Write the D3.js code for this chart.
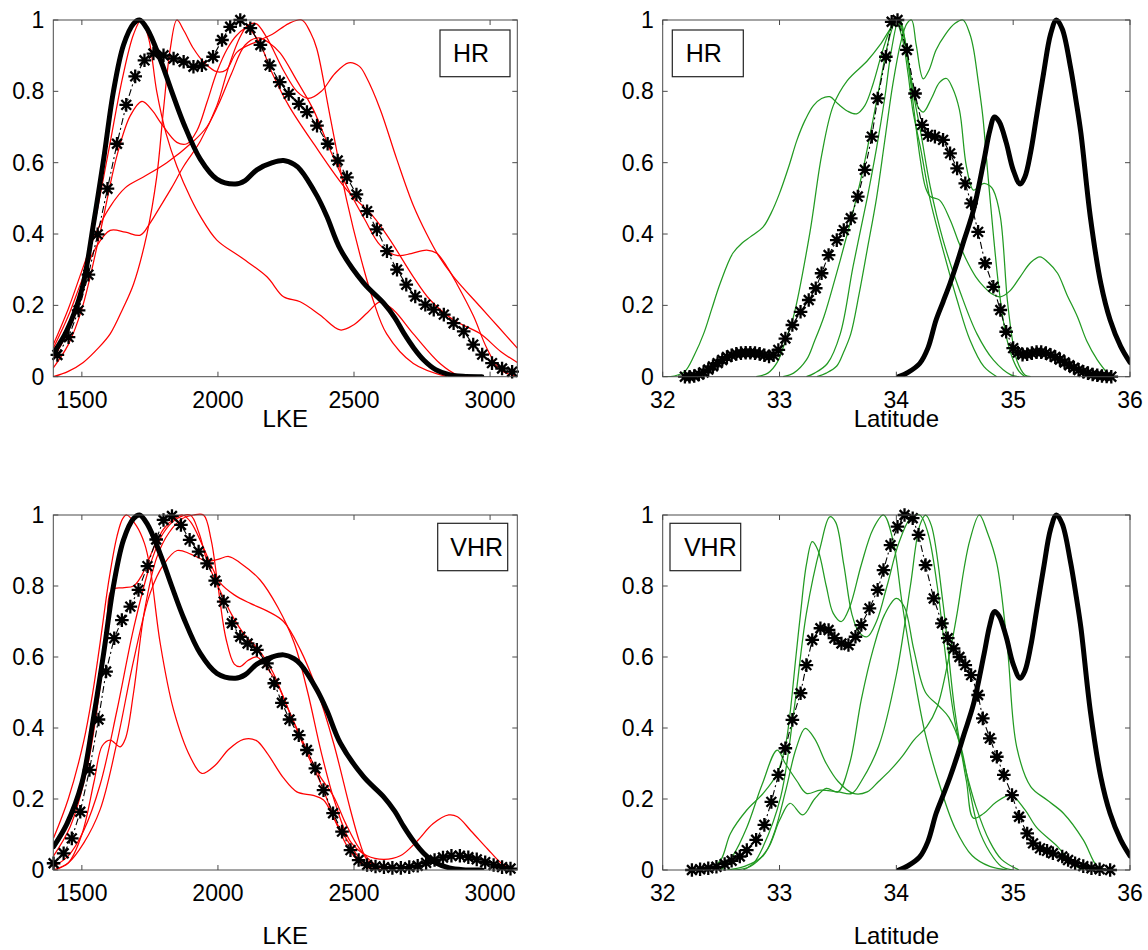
<!DOCTYPE html>
<html><head><meta charset="utf-8">
<script src="https://cdn.jsdelivr.net/npm/d3@7"></script>
<style>
body{margin:0;background:#fff}
svg{display:block}
text{font-family:"Liberation Sans",Arial,Helvetica,sans-serif;fill:#000}
</style>
</head><body>
<svg id="chart" width="1148" height="950"></svg>
<script>
// ---------------- DATA ----------------
const yTicks = [0, 0.2, 0.4, 0.6, 0.8, 1];
const lkeTicks = [1500, 2000, 2500, 3000];
const latTicks = [32, 33, 34, 35, 36];

// observed (thick black) distributions
const obsLKE = [[1396,0.066],[1445,0.13],[1500,0.245],[1543,0.43],[1580,0.61],[1616,0.80],[1653,0.93],[1690,0.99],[1712,1.0],[1740,0.975],[1788,0.89],[1830,0.80],[1874,0.71],[1935,0.61],[1996,0.554],[2064,0.54],[2100,0.55],[2143,0.58],[2200,0.60],[2241,0.606],[2280,0.595],[2303,0.58],[2364,0.507],[2400,0.45],[2450,0.357],[2535,0.263],[2609,0.206],[2650,0.165],[2683,0.122],[2720,0.08],[2756,0.047],[2800,0.02],[2850,0.006],[2900,0.001],[2970,0]];
const obsLat = [[34.02,0],[34.1,0.012],[34.2,0.037],[34.27,0.08],[34.34,0.159],[34.4,0.21],[34.46,0.262],[34.52,0.32],[34.58,0.383],[34.66,0.467],[34.75,0.607],[34.8,0.69],[34.84,0.728],[34.88,0.715],[34.94,0.657],[35.0,0.58],[35.06,0.54],[35.1,0.56],[35.15,0.63],[35.2,0.73],[35.26,0.85],[35.32,0.96],[35.37,1.0],[35.42,0.975],[35.49,0.869],[35.54,0.77],[35.58,0.682],[35.66,0.449],[35.75,0.262],[35.83,0.159],[35.92,0.085],[36.0,0.04]];

// ensemble mean (asterisks)
const meanLKE_HR = [[1410,0.061],[1451,0.111],[1488,0.186],[1524,0.286],[1558,0.399],[1594,0.527],[1629,0.653],[1663,0.762],[1696,0.842],[1730,0.887],[1763,0.906],[1800,0.901],[1837,0.892],[1874,0.883],[1910,0.869],[1941,0.873],[1982,0.897],[2015,0.944],[2045,0.981],[2082,1.0],[2119,0.977],[2156,0.930],[2190,0.873],[2227,0.826],[2260,0.793],[2297,0.765],[2327,0.742],[2364,0.704],[2403,0.653],[2440,0.606],[2474,0.559],[2509,0.511],[2548,0.464],[2584,0.413],[2621,0.352],[2658,0.300],[2692,0.258],[2725,0.225],[2762,0.202],[2793,0.188],[2830,0.174],[2866,0.150],[2903,0.127],[2938,0.090],[2971,0.062],[3007,0.038],[3044,0.023],[3081,0.014]];
const meanLat_HR = [[32.19,0],[32.23,0],[32.27,0.002],[32.31,0.006],[32.35,0.012],[32.39,0.02],[32.43,0.029],[32.47,0.038],[32.51,0.047],[32.55,0.055],[32.59,0.06],[32.63,0.064],[32.67,0.066],[32.71,0.067],[32.75,0.067],[32.79,0.066],[32.83,0.064],[32.87,0.06],[32.91,0.057],[32.95,0.06],[32.99,0.075],[33.05,0.107],[33.11,0.145],[33.18,0.182],[33.25,0.215],[33.31,0.248],[33.36,0.29],[33.42,0.341],[33.49,0.383],[33.55,0.411],[33.61,0.444],[33.67,0.505],[33.73,0.58],[33.79,0.673],[33.84,0.78],[33.91,0.897],[33.96,0.995],[34.01,1.0],[34.09,0.916],[34.16,0.794],[34.22,0.706],[34.27,0.678],[34.33,0.673],[34.4,0.664],[34.46,0.626],[34.52,0.584],[34.59,0.542],[34.64,0.486],[34.7,0.406],[34.76,0.318],[34.83,0.252],[34.89,0.187],[34.94,0.126],[35.0,0.08],[35.04,0.068],[35.08,0.062],[35.12,0.063],[35.16,0.066],[35.2,0.069],[35.24,0.069],[35.28,0.066],[35.32,0.061],[35.36,0.055],[35.4,0.048],[35.44,0.04],[35.48,0.032],[35.52,0.025],[35.56,0.019],[35.6,0.014],[35.64,0.01],[35.68,0.006],[35.72,0.004],[35.76,0.002],[35.8,0.001],[35.84,0]];
const meanLKE_VHR = [[1396,0.019],[1433,0.047],[1463,0.089],[1494,0.164],[1528,0.282],[1561,0.424],[1589,0.559],[1619,0.653],[1647,0.704],[1678,0.742],[1708,0.789],[1741,0.856],[1773,0.931],[1800,0.986],[1831,0.997],[1864,0.972],[1896,0.93],[1929,0.897],[1960,0.864],[1990,0.815],[2021,0.756],[2051,0.695],[2082,0.657],[2109,0.638],[2143,0.62],[2180,0.582],[2207,0.526],[2235,0.471],[2263,0.424],[2297,0.38],[2327,0.338],[2358,0.286],[2388,0.225],[2423,0.16],[2456,0.108],[2487,0.056],[2517,0.028],[2548,0.014],[2579,0.01],[2610,0.008],[2641,0.006],[2672,0.006],[2703,0.008],[2734,0.012],[2765,0.02],[2796,0.028],[2827,0.035],[2858,0.04],[2889,0.04],[2920,0.036],[2951,0.03],[2982,0.022],[3013,0.014],[3044,0.008],[3075,0.004]];
const meanLat_VHR = [[32.25,0],[32.32,0.002],[32.39,0.005],[32.46,0.009],[32.53,0.017],[32.59,0.026],[32.66,0.038],[32.72,0.056],[32.8,0.085],[32.87,0.127],[32.93,0.192],[32.99,0.268],[33.05,0.343],[33.11,0.423],[33.18,0.498],[33.23,0.577],[33.28,0.648],[33.35,0.681],[33.42,0.676],[33.47,0.653],[33.53,0.638],[33.59,0.634],[33.65,0.657],[33.7,0.69],[33.77,0.737],[33.84,0.789],[33.89,0.845],[33.95,0.915],[34.01,0.967],[34.07,1.0],[34.14,0.991],[34.19,0.944],[34.25,0.859],[34.32,0.765],[34.39,0.695],[34.44,0.653],[34.49,0.624],[34.54,0.6],[34.59,0.577],[34.64,0.549],[34.7,0.493],[34.74,0.427],[34.8,0.371],[34.86,0.319],[34.92,0.268],[34.99,0.211],[35.05,0.15],[35.12,0.103],[35.17,0.075],[35.23,0.061],[35.29,0.054],[35.34,0.047],[35.42,0.038],[35.47,0.028],[35.53,0.019],[35.6,0.011],[35.67,0.005],[35.74,0.002],[35.83,0]];

// ensemble members, HR, LKE (red)
const lkeHR1 = [[1395,0.05],[1450,0.13],[1500,0.25],[1550,0.44],[1600,0.64],[1650,0.84],[1690,0.96],[1718,1.0],[1745,0.95],[1775,0.8],[1810,0.68],[1849,0.59],[1900,0.5],[1935,0.45],[1996,0.383],[2082,0.336],[2180,0.28],[2241,0.224],[2302,0.21],[2375,0.173],[2449,0.131],[2498,0.145],[2550,0.18],[2596,0.21],[2645,0.187],[2718,0.12],[2816,0.037],[2880,0.005],[2950,0]];
const lkeHR2 = [[1395,0.025],[1450,0.09],[1500,0.19],[1567,0.404],[1629,0.62],[1678,0.732],[1721,0.772],[1760,0.745],[1788,0.714],[1849,0.657],[1886,0.653],[1923,0.69],[1960,0.77],[1996,0.854],[2035,0.92],[2070,0.958],[2107,0.977],[2150,0.94],[2200,0.85],[2260,0.76],[2351,0.654],[2474,0.523],[2571,0.449],[2633,0.383],[2718,0.28],[2780,0.215],[2866,0.159],[2963,0.121],[3040,0.07],[3100,0.04]];
const lkeHR3 = [[1395,0],[1450,0.015],[1505,0.04],[1560,0.08],[1604,0.12],[1650,0.19],[1690,0.26],[1739,0.40],[1775,0.56],[1800,0.75],[1825,0.92],[1849,1.0],[1875,0.97],[1910,0.92],[1950,0.88],[1996,0.855],[2030,0.86],[2070,0.91],[2143,0.94],[2200,0.96],[2260,0.99],[2308,1.0],[2340,0.965],[2363,0.92],[2412,0.73],[2473,0.495],[2533,0.31],[2570,0.215],[2620,0.12],[2718,0.037],[2841,0]];
const lkeHR4 = [[1395,0.08],[1450,0.17],[1500,0.27],[1550,0.36],[1604,0.41],[1660,0.405],[1715,0.397],[1750,0.43],[1788,0.477],[1830,0.53],[1874,0.59],[1935,0.66],[1996,0.76],[2040,0.87],[2080,0.95],[2110,0.985],[2140,0.99],[2180,0.95],[2240,0.86],[2290,0.8],[2333,0.78],[2380,0.8],[2430,0.85],[2480,0.88],[2520,0.87],[2545,0.84],[2596,0.75],[2657,0.61],[2718,0.48],[2767,0.40],[2810,0.34],[2866,0.28],[2964,0.196],[3030,0.14],[3100,0.08]];
const lkeHR5 = [[1395,0.09],[1450,0.19],[1506,0.31],[1550,0.4],[1604,0.477],[1660,0.53],[1726,0.56],[1812,0.6],[1910,0.66],[1959,0.7],[2000,0.76],[2050,0.85],[2100,0.93],[2150,0.95],[2190,0.935],[2229,0.907],[2290,0.83],[2351,0.748],[2410,0.64],[2474,0.533],[2540,0.44],[2596,0.369],[2657,0.34],[2710,0.345],[2767,0.355],[2804,0.346],[2840,0.31],[2878,0.26],[2939,0.17],[2988,0.08],[3037,0.02],[3100,0]];

// ensemble members, HR, latitude (green)
const latHR1 = [[32.0,0],[32.1,0.002],[32.19,0.015],[32.27,0.06],[32.35,0.12],[32.42,0.19],[32.49,0.26],[32.6,0.346],[32.68,0.375],[32.75,0.392],[32.86,0.42],[32.93,0.46],[33.0,0.514],[33.08,0.59],[33.15,0.664],[33.22,0.72],[33.29,0.76],[33.36,0.78],[33.43,0.785],[33.5,0.765],[33.58,0.745],[33.66,0.737],[33.73,0.76],[33.8,0.82],[33.87,0.9],[33.93,0.96],[33.99,1.0],[34.05,0.95],[34.1,0.85],[34.14,0.748],[34.21,0.636],[34.29,0.495],[34.4,0.355],[34.52,0.215],[34.63,0.103],[34.75,0.028],[34.86,0]];
const latHR2 = [[32.8,0],[32.9,0.01],[32.98,0.04],[33.05,0.1],[33.12,0.169],[33.26,0.404],[33.36,0.62],[33.46,0.76],[33.58,0.83],[33.75,0.885],[33.86,0.93],[33.96,0.98],[34.03,1.0],[34.08,0.93],[34.13,0.822],[34.21,0.682],[34.29,0.533],[34.4,0.383],[34.55,0.234],[34.69,0.12],[34.83,0.047],[34.98,0.005],[35.05,0]];
const latHR3 = [[33.32,0],[33.4,0.01],[33.49,0.03],[33.55,0.07],[33.61,0.12],[33.68,0.23],[33.75,0.355],[33.83,0.5],[33.9,0.66],[33.97,0.82],[34.04,0.94],[34.09,0.99],[34.13,1.0],[34.17,0.93],[34.23,0.835],[34.28,0.86],[34.34,0.916],[34.42,0.96],[34.5,0.99],[34.57,1.0],[34.63,0.96],[34.66,0.92],[34.7,0.83],[34.74,0.73],[34.78,0.58],[34.83,0.40],[34.87,0.27],[34.91,0.168],[34.95,0.1],[35.0,0.047],[35.05,0.015],[35.1,0]];
const latHR4 = [[33.23,0],[33.3,0.01],[33.41,0.037],[33.52,0.12],[33.63,0.31],[33.75,0.5],[33.83,0.64],[33.9,0.78],[33.96,0.92],[34.02,1.0],[34.07,0.95],[34.13,0.83],[34.18,0.76],[34.23,0.742],[34.3,0.78],[34.37,0.825],[34.43,0.836],[34.48,0.81],[34.54,0.748],[34.6,0.589],[34.66,0.523],[34.71,0.535],[34.75,0.542],[34.8,0.535],[34.83,0.523],[34.89,0.449],[34.95,0.215],[35.0,0.09],[35.03,0.047],[35.1,0.005],[35.15,0]];
const latHR5 = [[33.03,0],[33.12,0.01],[33.23,0.047],[33.3,0.1],[33.38,0.168],[33.48,0.28],[33.58,0.40],[33.65,0.49],[33.72,0.589],[33.8,0.72],[33.87,0.84],[33.94,0.95],[34.0,1.0],[34.05,0.97],[34.1,0.88],[34.15,0.75],[34.2,0.62],[34.25,0.53],[34.29,0.505],[34.37,0.495],[34.46,0.44],[34.53,0.38],[34.6,0.327],[34.68,0.28],[34.75,0.252],[34.82,0.232],[34.89,0.224],[34.97,0.24],[35.06,0.28],[35.15,0.32],[35.23,0.336],[35.3,0.32],[35.38,0.29],[35.46,0.23],[35.55,0.168],[35.63,0.1],[35.72,0.047],[35.83,0]];

// ensemble members, VHR, LKE (red)
const lkeVHR1 = [[1396,0.09],[1450,0.2],[1506,0.36],[1540,0.5],[1567,0.64],[1600,0.82],[1629,0.94],[1650,0.99],[1665,1.0],[1700,0.97],[1730,0.92],[1751,0.85],[1788,0.638],[1837,0.451],[1898,0.319],[1941,0.272],[1990,0.295],[2040,0.34],[2094,0.368],[2140,0.365],[2180,0.33],[2240,0.26],[2290,0.22],[2350,0.21],[2388,0.197],[2430,0.14],[2474,0.085],[2535,0.02],[2580,0]];
const lkeVHR2 = [[1396,0.04],[1457,0.122],[1518,0.282],[1567,0.516],[1590,0.68],[1610,0.789],[1650,0.795],[1690,0.8],[1720,0.83],[1760,0.9],[1800,0.96],[1840,0.99],[1870,1.0],[1900,0.98],[1940,0.92],[1980,0.85],[2009,0.808],[2060,0.775],[2119,0.751],[2180,0.73],[2241,0.70],[2303,0.62],[2364,0.507],[2425,0.357],[2487,0.169],[2520,0.08],[2548,0.028],[2600,0]];
const lkeVHR3 = [[1396,0],[1450,0.02],[1500,0.1],[1545,0.25],[1575,0.35],[1604,0.366],[1641,0.347],[1660,0.37],[1690,0.5],[1730,0.73],[1775,0.88],[1820,0.95],[1870,0.99],[1910,1.0],[1947,1.0],[1975,0.93],[2000,0.8],[2030,0.65],[2060,0.58],[2082,0.573],[2110,0.59],[2143,0.6],[2180,0.57],[2217,0.526],[2260,0.45],[2315,0.357],[2370,0.27],[2425,0.207],[2470,0.13],[2520,0.06],[2570,0.02],[2620,0]];
const lkeVHR4 = [[1396,0],[1450,0.02],[1506,0.075],[1567,0.17],[1629,0.36],[1690,0.59],[1751,0.78],[1800,0.86],[1850,0.9],[1900,0.89],[1960,0.87],[2000,0.875],[2040,0.883],[2082,0.865],[2155,0.817],[2220,0.74],[2280,0.64],[2330,0.5],[2380,0.33],[2430,0.19],[2487,0.08],[2548,0.04],[2610,0.03],[2670,0.04],[2730,0.08],[2790,0.13],[2848,0.155],[2880,0.15],[2930,0.11],[2990,0.06],[3040,0.02],[3075,0.005]];
const lkeVHR5 = [[1396,0.01],[1450,0.04],[1506,0.11],[1567,0.24],[1629,0.45],[1690,0.68],[1751,0.86],[1800,0.95],[1850,0.99],[1898,1.0],[1930,0.95],[1960,0.87],[2000,0.8],[2050,0.72],[2100,0.66],[2150,0.62],[2200,0.56],[2260,0.45],[2320,0.34],[2380,0.24],[2430,0.14],[2480,0.06],[2530,0.015],[2580,0]];

// ensemble members, VHR, latitude (green)
const latVHR1 = [[32.4,0],[32.5,0.03],[32.58,0.103],[32.72,0.169],[32.86,0.216],[32.98,0.272],[33.05,0.35],[33.09,0.441],[33.14,0.6],[33.18,0.723],[33.23,0.86],[33.28,0.925],[33.33,0.9],[33.4,0.8],[33.46,0.723],[33.53,0.70],[33.6,0.74],[33.7,0.86],[33.8,0.96],[33.89,1.0],[33.97,0.93],[34.05,0.75],[34.15,0.55],[34.25,0.38],[34.37,0.24],[34.5,0.12],[34.65,0.04],[34.8,0.01],[34.95,0]];
const latVHR2 = [[32.69,0],[32.78,0.02],[32.86,0.066],[33.01,0.206],[33.12,0.441],[33.23,0.723],[33.35,0.911],[33.43,0.995],[33.48,0.98],[33.55,0.86],[33.62,0.72],[33.68,0.67],[33.75,0.657],[33.83,0.7],[33.92,0.8],[34.02,0.92],[34.12,0.99],[34.2,1.0],[34.27,0.95],[34.35,0.8],[34.43,0.58],[34.5,0.42],[34.58,0.3],[34.68,0.18],[34.8,0.08],[34.9,0.03],[35.05,0]];
const latVHR3 = [[32.55,0],[32.7,0.01],[32.86,0.04],[32.95,0.1],[33.05,0.22],[33.14,0.34],[33.22,0.399],[33.3,0.37],[33.4,0.3],[33.5,0.25],[33.63,0.216],[33.75,0.22],[33.85,0.25],[33.95,0.282],[34.05,0.32],[34.15,0.366],[34.26,0.404],[34.35,0.46],[34.45,0.6],[34.52,0.723],[34.58,0.85],[34.63,0.93],[34.71,1.0],[34.78,0.95],[34.86,0.864],[34.95,0.629],[35.03,0.347],[35.15,0.235],[35.29,0.197],[35.43,0.16],[35.6,0.085],[35.72,0.01],[35.8,0]];
const latVHR4 = [[32.6,0],[32.75,0.01],[32.9,0.06],[33.0,0.14],[33.09,0.188],[33.2,0.155],[33.3,0.2],[33.4,0.23],[33.5,0.22],[33.6,0.3],[33.7,0.48],[33.8,0.62],[33.9,0.72],[34.0,0.765],[34.07,0.74],[34.15,0.62],[34.25,0.5],[34.37,0.46],[34.45,0.43],[34.55,0.35],[34.63,0.22],[34.7,0.12],[34.8,0.05],[34.9,0.01],[35.0,0]];
const latVHR5 = [[32.5,0],[32.6,0.04],[32.72,0.12],[32.85,0.24],[32.98,0.338],[33.05,0.3],[33.15,0.25],[33.23,0.216],[33.35,0.225],[33.5,0.22],[33.62,0.216],[33.7,0.25],[33.85,0.35],[34.0,0.55],[34.12,0.8],[34.2,0.97],[34.25,1.0],[34.3,0.97],[34.4,0.75],[34.5,0.45],[34.6,0.25],[34.66,0.146],[34.75,0.16],[34.85,0.19],[34.98,0.211],[35.1,0.17],[35.2,0.12],[35.38,0.066],[35.5,0.02],[35.6,0]];

const legendNames = ["HR", "HR", "VHR", "VHR"];
const axisLabels = ["LKE", "Latitude", "LKE", "Latitude"];

// ---------------- LAYOUT ----------------
const panels = [
  {x0:53.3, x1:517.3, y0:20, y1:376.7, dom:[1395,3100], ticks:lkeTicks, label:axisLabels[0], labelY:427, legend:legendNames[0], box:[440,30,70,46.7], tdx:-4, obs:obsLKE, mean:meanLKE_HR, members:[lkeHR1,lkeHR2,lkeHR3,lkeHR4,lkeHR5], color:"#ff0000"},
  {x0:662.7, x1:1130, y0:20, y1:376.7, dom:[32,36], ticks:latTicks, label:axisLabels[1], labelY:427, legend:legendNames[1], box:[672.3,30,71,46.7], tdx:-4, obs:obsLat, mean:meanLat_HR, members:[latHR1,latHR2,latHR3,latHR4,latHR5], color:"#229a22"},
  {x0:53.3, x1:517.3, y0:515, y1:870, dom:[1395,3100], ticks:lkeTicks, label:axisLabels[2], labelY:944, legend:legendNames[2], box:[437.7,523.3,70,47.4], tdx:4, obs:obsLKE, mean:meanLKE_VHR, members:[lkeVHR1,lkeVHR2,lkeVHR3,lkeVHR4,lkeVHR5], color:"#ff0000"},
  {x0:662.7, x1:1130, y0:515, y1:870, dom:[32,36], ticks:latTicks, label:axisLabels[3], labelY:944, legend:legendNames[3], box:[670,523.3,70.7,47.4], tdx:5, obs:obsLat, mean:meanLat_VHR, members:[latVHR1,latVHR2,latVHR3,latVHR4,latVHR5], color:"#229a22"}
];

const svg = d3.select("#chart");
const defs = svg.append("defs");
const tickLen = 5;
const fmtY = d => d === 0 ? "0" : d === 1 ? "1" : d.toFixed(1);
const starR = 6.8, starK = starR * 0.72;
const starPath = `M${-starR},0H${starR}M0,${-starR}V${starR}M${-starK},${-starK}L${starK},${starK}M${-starK},${starK}L${starK},${-starK}`;

panels.forEach((p, i) => {
  const x = d3.scaleLinear().domain(p.dom).range([p.x0, p.x1]);
  const y = d3.scaleLinear().domain([0, 1]).range([p.y1, p.y0]);
  const g = svg.append("g");
  const clipId = "clip" + i;
  defs.append("clipPath").attr("id", clipId).append("rect")
    .attr("x", p.x0).attr("y", p.y0 - 8).attr("width", p.x1 - p.x0).attr("height", p.y1 - p.y0 + 8);

  const line = d3.line().x(d => x(d[0])).y(d => y(d[1])).curve(d3.curveCatmullRom.alpha(0.5));
  const lin = d3.line().x(d => x(d[0])).y(d => y(d[1]));
  const plot = g.append("g").attr("clip-path", `url(#${clipId})`);

  p.members.forEach(m => {
    plot.append("path").datum(m).attr("d", line)
      .attr("fill", "none").attr("stroke", p.color).attr("stroke-width", 1.25);
  });
  plot.append("path").datum(p.obs).attr("d", line)
    .attr("fill", "none").attr("stroke", "#000").attr("stroke-width", 5)
    .attr("stroke-linejoin", "round").attr("stroke-linecap", "round");
  g.append("path").datum(p.mean).attr("d", lin)
    .attr("fill", "none").attr("stroke", "#000").attr("stroke-width", 1.1)
    .attr("stroke-dasharray", "7,3,2,3");
  g.append("g").selectAll("path").data(p.mean).join("path")
    .attr("transform", d => `translate(${x(d[0])},${y(d[1])})`)
    .attr("d", starPath).attr("fill", "none").attr("stroke", "#000").attr("stroke-width", 2.3);

  const ax = g.append("g").attr("stroke", "#4a4a4a").attr("stroke-width", 1).attr("fill", "none");
  ax.append("rect").attr("x", p.x0).attr("y", p.y0).attr("width", p.x1 - p.x0).attr("height", p.y1 - p.y0);
  p.ticks.forEach(t => {
    const xt = x(t);
    ax.append("line").attr("x1", xt).attr("x2", xt).attr("y1", p.y1).attr("y2", p.y1 - tickLen);
    ax.append("line").attr("x1", xt).attr("x2", xt).attr("y1", p.y0).attr("y2", p.y0 + tickLen);
  });
  yTicks.forEach(t => {
    const yt = y(t);
    ax.append("line").attr("x1", p.x0).attr("x2", p.x0 + tickLen).attr("y1", yt).attr("y2", yt);
    ax.append("line").attr("x1", p.x1).attr("x2", p.x1 - tickLen).attr("y1", yt).attr("y2", yt);
  });

  g.append("g").selectAll("text").data(p.ticks).join("text")
    .attr("x", d => x(d)).attr("y", p.y1 + 31).attr("text-anchor", "middle")
    .attr("font-size", 23).text(d => d);
  g.append("g").selectAll("text").data(yTicks).join("text")
    .attr("x", p.x0 - 9).attr("y", d => y(d) + 8).attr("text-anchor", "end")
    .attr("font-size", 23).text(fmtY);

  g.append("text").attr("x", (p.x0 + p.x1) / 2).attr("y", p.labelY)
    .attr("text-anchor", "middle").attr("font-size", 24).text(p.label);

  const [bx, by, bw, bh] = p.box;
  g.append("rect").attr("x", bx).attr("y", by).attr("width", bw).attr("height", bh)
    .attr("fill", "#fff").attr("stroke", "#222").attr("stroke-width", 1.2);
  g.append("text").attr("x", bx + bw / 2 + p.tdx).attr("y", by + bh / 2 + 9)
    .attr("text-anchor", "middle").attr("font-size", 25).text(p.legend);
});
</script>
</body></html>
